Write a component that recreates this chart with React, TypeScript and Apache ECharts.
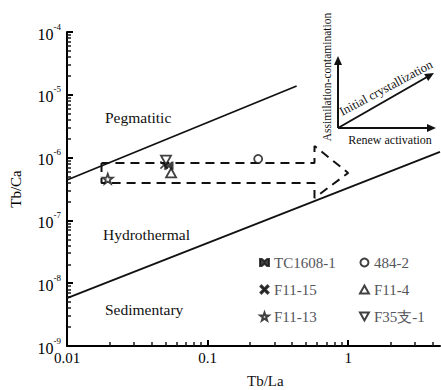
import React, { useEffect, useRef } from 'react';
import * as echarts from 'echarts';

const FONT = 'Liberation Serif';
const FONT_CSS = '"Liberation Serif", serif';

// axis ticks (raw values)
const xMinorTicks = [0.02, 0.03, 0.04, 0.05, 0.06, 0.07, 0.08, 0.09, 0.2, 0.3, 0.4, 0.5, 0.6, 0.7, 0.8, 0.9, 2, 3, 4];
const yMinorTicks = [
  2e-9, 3e-9, 4e-9, 5e-9, 6e-9, 7e-9, 8e-9, 9e-9,
  2e-8, 3e-8, 4e-8, 5e-8, 6e-8, 7e-8, 8e-8, 9e-8,
  2e-7, 3e-7, 4e-7, 5e-7, 6e-7, 7e-7, 8e-7, 9e-7,
  2e-6, 3e-6, 4e-6, 5e-6, 6e-6, 7e-6, 8e-6, 9e-6,
  2e-5, 3e-5, 4e-5, 5e-5, 6e-5, 7e-5, 8e-5, 9e-5,
];
const xMin = 0.01;
const xMax = 4.5;
const yMin = 1e-9;
const yMax = 1e-4;

// samples
const sampleNames = ['TC1608-1', 'F11-15', 'F11-13', '484-2', 'F11-4', 'F35支-1'];
const tbLa = [0.053, 0.049, 0.0195, 0.229, 0.055, 0.0506];
const tbCa = [7.4e-7, 7.6e-7, 4.6e-7, 9.5e-7, 5.7e-7, 9.1e-7];

// boundaries (Tb/La, Tb/Ca)
const upperBoundaryX = [0.01, 0.43];
const upperBoundaryY = [4.4e-7, 1.38e-5];
const lowerBoundaryX = [0.01, 4.5];
const lowerBoundaryY = [5.8e-9, 1.23e-6];

// dashed trend arrow outline
const trendX = [0.0176, 0.0176, 0.576, 0.576, 1.0, 0.576, 0.576, 0.0176];
const trendY = [8.2e-7, 3.95e-7, 3.95e-7, 2.28e-7, 5.7e-7, 1.53e-6, 8.2e-7, 8.2e-7];

const zip = (a: number[], b: number[]) => a.map((v, i) => [v, b[i]]);
const lg = (v: number) => Math.log10(v);

const STAR = 'path://M5,0 L6.18,3.38 L9.76,3.45 L6.9,5.62 L7.94,9.05 L5,7 L2.06,9.05 L3.1,5.62 L0.24,3.45 L3.82,3.38 Z';
const CROSS = 'path://M1.2,0 L5,3.8 L8.8,0 L10,1.2 L6.2,5 L10,8.8 L8.8,10 L5,6.2 L1.2,10 L0,8.8 L3.8,5 L0,1.2 Z';
const BOWTIE = 'path://M0,1 L2,1 L5,3.6 L8,1 L10,1 L10,9 L8,9 L5,6.4 L2,9 L0,9 Z';
const TRI_UP = 'path://M5,0 L10,9 L0,9 Z';
const TRI_DOWN = 'path://M0,0 L10,0 L5,9 Z';

const symbols = [BOWTIE, CROSS, STAR, 'circle', TRI_UP, TRI_DOWN];
const fills = ['#111', '#111', '#fff', '#fff', '#fff', '#fff'];
const sizes = [[9, 8], [8, 8], [10, 10], [8, 8], [10, 9], [10, 9]];

export default function App() {
  const ref = useRef<HTMLDivElement>(null);
  useEffect(() => {
    if (!ref.current) return;
    const chart = echarts.init(ref.current, null, { renderer: 'svg' });
    const baseText = { fontFamily: FONT, color: '#000' };
    const hiddenSplit = { show: true, lineStyle: { color: 'rgba(0,0,0,0)' } };

    const scatterSeries = sampleNames.map((name, i) => ({
      name,
      type: 'scatter',
      xAxisIndex: 0,
      yAxisIndex: 0,
      symbol: symbols[i],
      symbolSize: sizes[i],
      itemStyle: { color: fills[i], borderColor: '#111', borderWidth: fills[i] === '#fff' ? 1.8 : 0.3 },
      z: 5,
      data: [[tbLa[i], tbCa[i]]],
    }));

    const lineStyleSolid = { color: '#111', width: 1.8 };
    const legendCommon = {
      orient: 'vertical', top: 250,
      itemWidth: 9, itemHeight: 8, itemGap: 12,
      textStyle: { fontFamily: FONT, fontSize: 15 },
    };

    const option: any = {
      animation: false,
      grid: { left: 64, right: 1, top: 32, bottom: 44 },
      xAxis: [
        {
          type: 'log', min: xMin, max: xMax,
          axisLine: { show: true, onZero: false, lineStyle: { color: '#000', width: 2 } },
          axisTick: { show: true, inside: true, length: 6, lineStyle: { color: 'black', width: 2 } },
          axisLabel: { formatter: (v: number) => String(v), fontSize: 15, margin: 4, showMaxLabel: false, ...baseText },
          splitLine: hiddenSplit,
        },
        {
          type: 'value', min: lg(xMin), max: lg(xMax), position: 'bottom',
          axisLine: { show: false, onZero: false },
          axisTick: { show: true, inside: true, length: 4, lineStyle: { color: 'rgb(25,25,25)', width: 1.5 }, customValues: xMinorTicks.map(lg) },
          axisLabel: { show: false },
          splitLine: { show: false },
        },
      ],
      yAxis: [
        {
          type: 'log', min: yMin, max: yMax,
          name: 'Tb/Ca', nameLocation: 'middle', nameGap: 44,
          nameTextStyle: { fontSize: 15, ...baseText },
          axisLine: { show: true, onZero: false, lineStyle: { color: '#000', width: 2 } },
          axisTick: { show: true, inside: true, length: 6, lineStyle: { color: 'black', width: 2 } },
          axisLabel: {
            margin: 6,
            formatter: (v: number) => `{b|10}{s|${Math.round(Math.log10(v))}}`,
            rich: {
              b: { fontSize: 16, lineHeight: 20, verticalAlign: 'bottom', ...baseText },
              s: { fontSize: 9, lineHeight: 10, verticalAlign: 'top', ...baseText },
            },
          },
          splitLine: hiddenSplit,
        },
        {
          type: 'value', min: lg(yMin), max: lg(yMax), position: 'left',
          axisLine: { show: false, onZero: false },
          axisTick: { show: true, inside: true, length: 4, lineStyle: { color: 'rgb(25,25,25)', width: 1.5 }, customValues: yMinorTicks.map(lg) },
          axisLabel: { show: false },
          splitLine: { show: false },
        },
      ],
      legend: [
        { ...legendCommon, data: sampleNames.slice(0, 3), left: 254 },
        { ...legendCommon, data: sampleNames.slice(3), left: 354 },
      ],
      series: [
        { type: 'line', data: zip(upperBoundaryX, upperBoundaryY), symbol: 'none', lineStyle: lineStyleSolid, silent: true },
        { type: 'line', data: zip(lowerBoundaryX, lowerBoundaryY), symbol: 'none', lineStyle: lineStyleSolid, silent: true },
        {
          type: 'line', data: zip(trendX, trendY), symbol: 'none', silent: true,
          lineStyle: { color: '#111', width: 2, type: [9, 6] },
        },
        ...scatterSeries,
      ],
      graphic: [
        { type: 'text', left: 105, top: 109, style: { text: 'Pegmatitic', font: `15.5px ${FONT_CSS}`, fill: '#111' } },
        { type: 'text', left: 103, top: 226, style: { text: 'Hydrothermal', font: `15.5px ${FONT_CSS}`, fill: '#111' } },
        { type: 'text', left: 105, top: 301, style: { text: 'Sedimentary', font: `15.5px ${FONT_CSS}`, fill: '#111' } },
        { type: 'text', left: 247, top: 373, style: { text: 'Tb/La', font: `15px ${FONT_CSS}`, fill: '#111' } },
        // inset arrows
        { type: 'line', shape: { x1: 338, y1: 128, x2: 338, y2: 63 }, style: { stroke: '#111', lineWidth: 2 } },
        { type: 'polygon', shape: { points: [[338, 56], [334, 65], [342, 65]] }, style: { fill: '#111' } },
        { type: 'line', shape: { x1: 338, y1: 128, x2: 428, y2: 128 }, style: { stroke: '#111', lineWidth: 2 } },
        { type: 'polygon', shape: { points: [[436, 128], [427, 124], [427, 132]] }, style: { fill: '#111' } },
        { type: 'line', shape: { x1: 338, y1: 128, x2: 427, y2: 77 }, style: { stroke: '#111', lineWidth: 2 } },
        { type: 'polygon', shape: { points: [[434, 73], [428.2, 81.0], [424.2, 74.0]] }, style: { fill: '#111' } },
        {
          type: 'text', x: 327, y: 77, rotation: Math.PI / 2,
          style: { text: 'Assimilation-contamination', font: `11.5px ${FONT_CSS}`, fill: '#111', x: 0, y: 0, align: 'center', verticalAlign: 'middle', textAlign: 'center', textVerticalAlign: 'middle' },
        },
        {
          type: 'text', x: 386, y: 88, rotation: 0.49,
          style: { text: 'Initial crystallization', font: `12.5px ${FONT_CSS}`, fill: '#111', x: 0, y: 0, align: 'center', verticalAlign: 'middle', textAlign: 'center', textVerticalAlign: 'middle' },
        },
        {
          type: 'text', x: 390, y: 140,
          style: { text: 'Renew activation', font: `12px ${FONT_CSS}`, fill: '#111', x: 0, y: 0, align: 'center', verticalAlign: 'middle', textAlign: 'center', textVerticalAlign: 'middle' },
        },
      ],
    };
    chart.setOption(option);
    return () => chart.dispose();
  }, []);
  return <div ref={ref} style={{ width: 441, height: 390, position: 'absolute', left: 0, top: 0, background: '#fff' }} />;
}
